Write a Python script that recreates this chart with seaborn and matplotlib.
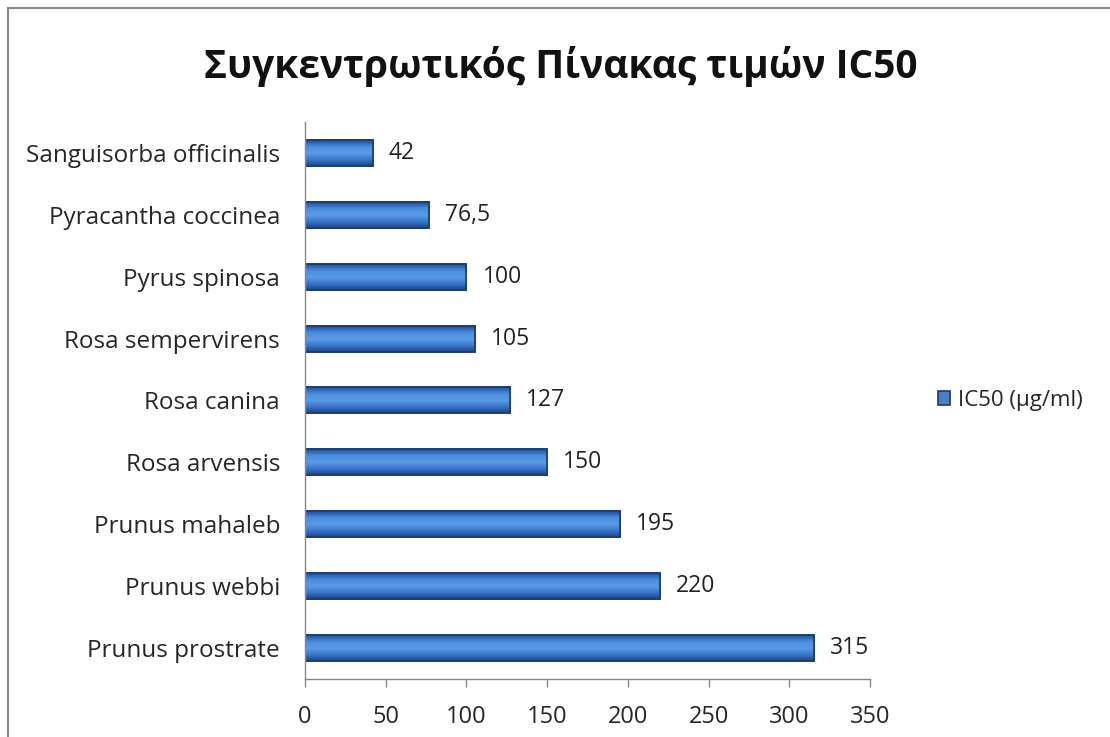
import matplotlib.pyplot as plt
import seaborn as sns
import pandas as pd
import numpy as np
from matplotlib.patches import Rectangle
from matplotlib.colors import LinearSegmentedColormap

# IC50 values per plant (top to bottom as in the chart)
species = [
    "Sanguisorba officinalis",
    "Pyracantha coccinea",
    "Pyrus spinosa",
    "Rosa sempervirens",
    "Rosa canina",
    "Rosa arvensis",
    "Prunus mahaleb",
    "Prunus webbi",
    "Prunus prostrate",
]
ic50 = [42, 76.5, 100, 105, 127, 150, 195, 220, 315]
labels = ["42", "76,5", "100", "105", "127", "150", "195", "220", "315"]

df = pd.DataFrame({"species": species, "ic50": ic50})

sns.set_style("white")
plt.rcParams["font.family"] = ["Open Sans", "DejaVu Sans"]

fig = plt.figure(figsize=(11.1, 7.37), dpi=100)
ax = fig.add_axes([0.2748, 0.0787, 0.509, 0.7558])

sns.barplot(data=df, x="ic50", y="species", orient="h", color="#3a7bd5",
            width=0.42, edgecolor="#1c3a6e", linewidth=1.2, ax=ax,
            label="IC50 (μg/ml)")

# bevel-like shading: dark at top/bottom, lighter in the middle
shade = LinearSegmentedColormap.from_list(
    "bevel", ["#1f4f9a", "#4a8ee0", "#5b9be6", "#3a78cc", "#1d4688"])
grad = np.linspace(0, 1, 64).reshape(-1, 1)
for p in list(ax.patches):
    x0, y0 = p.get_x(), p.get_y()
    w, h = p.get_width(), p.get_height()
    im = ax.imshow(grad, cmap=shade, aspect="auto", origin="upper",
                   extent=(x0, x0 + w, y0 + h, y0), zorder=p.get_zorder() + 0.1)
    im.set_clip_path(p)
    edge = Rectangle((x0, y0), w, h, fill=False, edgecolor="#1c3a6e",
                     linewidth=1.2, zorder=p.get_zorder() + 0.2)
    ax.add_patch(edge)

for i, (v, t) in enumerate(zip(ic50, labels)):
    ax.text(v + 10, i, t, va="center", ha="left", fontsize=16.5, color="#222222")

ax.set_xlim(0, 350)
ax.set_ylim(len(species) - 0.5, -0.5)
ax.set_xticks(range(0, 351, 50))
ax.set_xlabel("")
ax.set_ylabel("")
ax.tick_params(axis="x", labelsize=17, length=6, width=1, color="#888888",
               direction="out", pad=13, bottom=True)
ax.tick_params(axis="y", labelsize=17.5, length=0, pad=18)
for s in ["top", "right"]:
    ax.spines[s].set_visible(False)
for s in ["left", "bottom"]:
    ax.spines[s].set_color("#888888")
    ax.spines[s].set_linewidth(1)

leg = ax.legend(loc="center left", bbox_to_anchor=(1.085, 0.5), frameon=False,
                fontsize=16, handlelength=0.55, handleheight=0.55, handletextpad=0.35)

fig.text(0.505, 0.91, "Συγκεντρωτικός Πίνακας τιμών IC50", ha="center",
         va="center", fontsize=28, fontweight="bold", color="#111111")

# outer chart border (runs past the right and bottom edges)
fig.patches.append(Rectangle((0.0075, -0.05), 1.1, 1.039, transform=fig.transFigure,
                             fill=False, edgecolor="#888888", linewidth=1.5))

fig.savefig("out.png", dpi=100)
